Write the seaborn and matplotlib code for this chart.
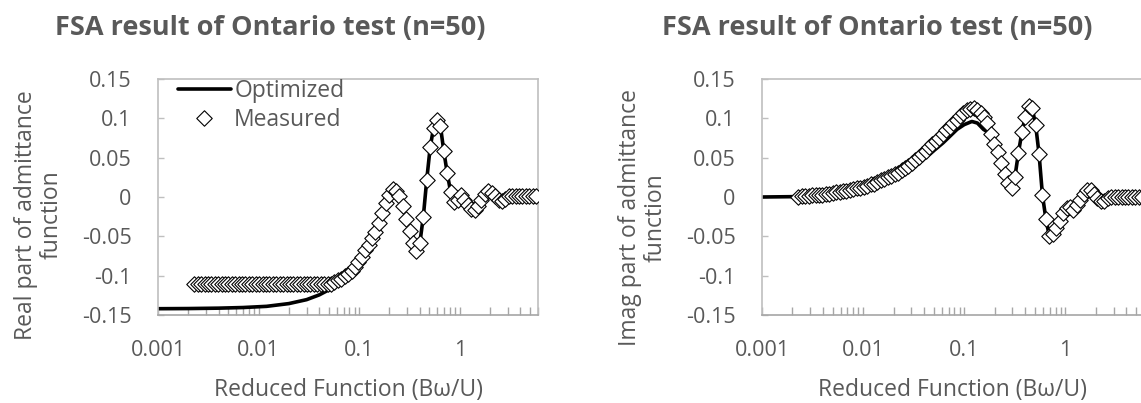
import matplotlib
matplotlib.use("Agg")
import matplotlib.pyplot as plt
import matplotlib.ticker as mticker
import seaborn as sns

# reduced frequency (Bω/U) of the measured points
freq = [0.00229, 0.00248, 0.00268, 0.00290, 0.00313, 0.00339, 0.00366, 0.00396, 0.00429, 0.00463,
        0.00501, 0.00542, 0.00586, 0.00634, 0.00685, 0.00741, 0.00802, 0.00867, 0.00938, 0.01014,
        0.01096, 0.01186, 0.01282, 0.01387, 0.01500, 0.01622, 0.01754, 0.01897, 0.02051, 0.02218,
        0.02399, 0.02594, 0.02805, 0.03034, 0.03281, 0.03548, 0.03837, 0.04150, 0.04487, 0.04853,
        0.05248, 0.05675, 0.06138, 0.06637, 0.07178, 0.07762, 0.08395, 0.09078, 0.09817, 0.1062,
        0.1148, 0.1242, 0.1343, 0.1452, 0.1570, 0.1698, 0.1837, 0.1986, 0.2148, 0.2323,
        0.2512, 0.2716, 0.2938, 0.3177, 0.3436, 0.3715, 0.4018, 0.4345, 0.4699, 0.5082,
        0.5495, 0.5943, 0.6427, 0.6950, 0.7516, 0.8128, 0.8790, 0.9506, 1.028, 1.112,
        1.202, 1.300, 1.406, 1.521, 1.644, 1.778, 1.923, 2.080, 2.249, 2.432,
        2.630, 2.844, 3.076, 3.327, 3.597, 3.890, 4.207, 4.550, 4.920, 5.321,
        5.754]

# measured real part
real_meas = [-0.111, -0.111, -0.111, -0.111, -0.111, -0.111, -0.111, -0.111, -0.111, -0.111,
             -0.111, -0.111, -0.111, -0.111, -0.111, -0.111, -0.111, -0.111, -0.111, -0.111,
             -0.111, -0.111, -0.111, -0.111, -0.111, -0.111, -0.111, -0.111, -0.111, -0.111,
             -0.111, -0.111, -0.111, -0.111, -0.111, -0.111, -0.111, -0.111, -0.111, -0.111,
             -0.110, -0.108, -0.106, -0.104, -0.101, -0.098, -0.094, -0.089, -0.083, -0.076,
             -0.068, -0.061, -0.052, -0.044, -0.033, -0.020, -0.008, 0.003, 0.010, 0.008,
             0.001, -0.012, -0.028, -0.043, -0.058, -0.069, -0.058, -0.025, 0.022, 0.063,
             0.088, 0.098, 0.090, 0.058, 0.030, 0.006, -0.006, -0.004, 0.002, -0.004,
             -0.010, -0.015, -0.017, -0.012, -0.004, 0.004, 0.008, 0.005, 0.001, -0.004,
             -0.005, -0.002, 0.001, 0.001, 0.001, 0.001, 0.001, 0.001, 0.001, 0.001,
             0.001]

# measured imaginary part
imag_meas = [0.000, 0.001, 0.001, 0.001, 0.002, 0.002, 0.003, 0.003, 0.004, 0.004,
             0.005, 0.006, 0.006, 0.007, 0.008, 0.009, 0.010, 0.011, 0.012, 0.013,
             0.014, 0.016, 0.017, 0.019, 0.021, 0.023, 0.025, 0.027, 0.029, 0.031,
             0.034, 0.037, 0.040, 0.043, 0.047, 0.051, 0.055, 0.059, 0.063, 0.067,
             0.071, 0.075, 0.080, 0.085, 0.089, 0.094, 0.098, 0.103, 0.107, 0.110,
             0.112, 0.113, 0.111, 0.107, 0.102, 0.094, 0.080, 0.067, 0.057, 0.043,
             0.029, 0.018, 0.012, 0.026, 0.056, 0.082, 0.102, 0.116, 0.113, 0.092,
             0.055, 0.002, -0.028, -0.050, -0.047, -0.040, -0.030, -0.020, -0.014, -0.013,
             -0.017, -0.010, -0.004, 0.004, 0.009, 0.009, 0.004, -0.001, -0.005, -0.005,
             -0.001, 0.000, 0.000, 0.000, 0.000, 0.000, 0.000, 0.000, 0.000, 0.000,
             0.000]

# optimized fit below the point where it joins the measured curve
opt_real_x = [0.001, 0.002, 0.004, 0.007, 0.012, 0.02, 0.03, 0.04, 0.05, 0.058, 0.0664]
opt_real_y = [-0.142, -0.1418, -0.1413, -0.1405, -0.139, -0.1355, -0.1305, -0.1245, -0.118, -0.1125, -0.106]
opt_imag_x = [0.001, 0.0023, 0.005, 0.01, 0.02, 0.03, 0.046, 0.062, 0.085, 0.10, 0.119, 0.135, 0.155]
opt_imag_y = [0.0, 0.0005, 0.004, 0.010, 0.025, 0.037, 0.055, 0.069, 0.086, 0.092, 0.096, 0.094, 0.086]
real_join = 44
imag_join = 56

title = "FSA result of Ontario test (n=50)"
xlabel = "Reduced Function (Bω/U)"
ylabels = ["Real part of admittance\nfunction", "Imag part of admittance\nfunction"]
yticks = [-0.15, -0.1, -0.05, 0, 0.05, 0.1, 0.15]
ytick_labels = ["-0.15", "-0.1", "-0.05", "0", "0.05", "0.1", "0.15"]
xticks = [0.001, 0.01, 0.1, 1]
xtick_labels = ["0.001", "0.01", "0.1", "1"]

sns.set_theme(style="white")
plt.rcParams["font.family"] = ["Open Sans", "DejaVu Sans"]
plt.rcParams["axes.unicode_minus"] = False

grey = "#595959"
W, H = 1141, 403
fig = plt.figure(figsize=(W / 100, H / 100), dpi=100)
ax1 = fig.add_axes([158 / W, 1 - 315 / H, 380 / W, 236 / H])
ax2 = fig.add_axes([762 / W, 1 - 315 / H, 382 / W, 236 / H])

panels = [
    (ax1, opt_real_x + freq[real_join:], opt_real_y + real_meas[real_join:], real_meas),
    (ax2, opt_imag_x + freq[imag_join:], opt_imag_y + imag_meas[imag_join:], imag_meas),
]

for ax, ox, oy, meas in panels:
    sns.lineplot(x=ox, y=oy, ax=ax, color="black", linewidth=2.6,
                 estimator=None, sort=False, label="Optimized")
    sns.scatterplot(x=freq, y=meas, ax=ax, marker="D", s=62, color="white",
                    edgecolor="black", linewidth=0.8, zorder=3, label="Measured")
    ax.set_xscale("log")
    ax.set_xlim(0.001, 6)
    ax.set_ylim(-0.15, 0.15)
    ax.set_xticks(xticks)
    ax.set_xticklabels(xtick_labels)
    ax.xaxis.set_minor_locator(mticker.LogLocator(base=10, subs=range(2, 10)))
    ax.xaxis.set_minor_formatter(mticker.NullFormatter())
    ax.set_yticks(yticks)
    ax.set_yticklabels(ytick_labels)
    ax.set_xlabel("")
    ax.set_ylabel("")
    ax.tick_params(axis="x", which="both", bottom=True, direction="in", length=6,
                   width=1, color="#A6A6A6", pad=18, labelsize=15.5, labelcolor=grey)
    ax.tick_params(axis="y", left=True, direction="in", length=4, width=1,
                   color="#BFBFBF", pad=19, labelsize=15.5, labelcolor=grey)
    for side, sp in ax.spines.items():
        sp.set_visible(True)
        sp.set_color("#BFBFBF")
        sp.set_linewidth(1.2)
    ax.spines["bottom"].set_color("#A6A6A6")

ax2.get_legend().remove()
ax1.legend(loc="upper left", bbox_to_anchor=(20 / 380, 1.0), frameon=False,
           fontsize=16.5, handlelength=2.3, handletextpad=0.15, labelspacing=0.2,
           borderpad=0, borderaxespad=0, scatteryoffsets=[0.5], labelcolor=grey)

for cx, lx in [(270, 348), (877, 953)]:
    fig.text(cx / W, 1 - 28 / H, title, ha="center", va="center",
             fontsize=19.5, fontweight="bold", color=grey)
    fig.text(lx / W, 1 - 390 / H, xlabel, ha="center", va="center",
             fontsize=16.5, color=grey)
fig.text(39 / W, 1 - 215 / H, ylabels[0], ha="center", va="center", rotation=90,
         multialignment="center", fontsize=16.5, color=grey, linespacing=1.1)
fig.text(643 / W, 1 - 218 / H, ylabels[1], ha="center", va="center", rotation=90,
         multialignment="center", fontsize=16.5, color=grey, linespacing=1.1)

fig.savefig("out.png", dpi=100, facecolor="white")
